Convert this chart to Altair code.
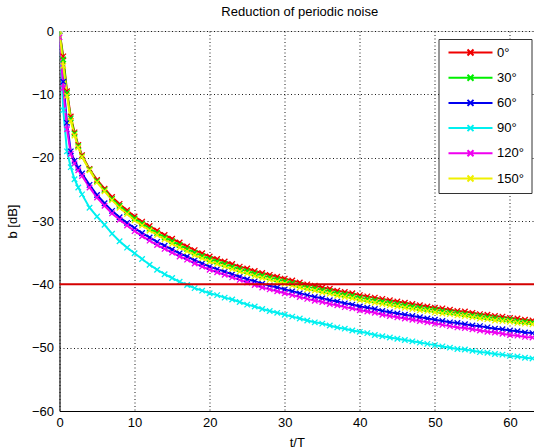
import altair as alt
import pandas as pd

T = [0, 0.5, 1, 1.5, 2, 2.5, 3, 4, 5, 6, 7, 8, 9, 10, 11, 12, 13, 14, 15, 16, 17, 18, 19, 20,
     21, 22, 23, 24, 25, 26, 27, 28, 29, 30, 31, 32, 33, 34, 35, 36, 37, 38, 39, 40, 41, 42,
     43, 44, 45, 46, 47, 48, 49, 50, 51, 52, 53, 54, 55, 56, 57, 58, 59, 60, 61, 62, 63]

B0 = [0, -4.0, -9.5, -13.5, -16.0, -18.0, -19.6, -21.8, -23.5, -24.9, -26.2, -27.3, -28.3, -29.3,
      -30.1, -30.8, -31.5, -32.2, -32.8, -33.4, -34.0, -34.6, -35.1, -35.6, -36.0, -36.4, -36.8,
      -37.2, -37.5, -37.9, -38.2, -38.5, -38.8, -39.1, -39.4, -39.7, -40.0, -40.2, -40.5, -40.7,
      -41.0, -41.2, -41.4, -41.7, -41.9, -42.1, -42.3, -42.5, -42.7, -42.9, -43.1, -43.3, -43.5,
      -43.7, -43.8, -44.0, -44.2, -44.3, -44.5, -44.7, -44.8, -45.0, -45.1, -45.3, -45.4, -45.6, -45.7]
B30 = [0, -4.5, -9.8, -13.8, -16.2, -18.2, -19.8, -21.9, -23.7, -25.1, -26.5, -27.6, -28.6, -29.6,
       -30.4, -31.2, -31.9, -32.6, -33.2, -33.8, -34.4, -35.0, -35.5, -36.0, -36.4, -36.8, -37.2,
       -37.6, -37.9, -38.3, -38.6, -38.9, -39.2, -39.5, -39.8, -40.1, -40.4, -40.6, -40.9, -41.1,
       -41.4, -41.6, -41.8, -42.1, -42.3, -42.5, -42.7, -42.9, -43.1, -43.3, -43.5, -43.7, -43.9,
       -44.0, -44.2, -44.4, -44.5, -44.7, -44.9, -45.0, -45.2, -45.3, -45.5, -45.6, -45.8, -45.9, -46.0]
B60 = [0, -8.0, -14.5, -19.0, -20.5, -21.6, -22.5, -24.3, -25.9, -27.2, -28.4, -29.4, -30.3, -31.1,
       -31.9, -32.6, -33.3, -33.9, -34.5, -35.1, -35.6, -36.2, -36.7, -37.2, -37.6, -38.0, -38.4,
       -38.8, -39.2, -39.5, -39.9, -40.2, -40.5, -40.8, -41.1, -41.4, -41.7, -42.0, -42.2, -42.5,
       -42.7, -43.0, -43.2, -43.5, -43.7, -43.9, -44.2, -44.4, -44.6, -44.8, -45.0, -45.2, -45.4,
       -45.6, -45.8, -46.0, -46.1, -46.3, -46.5, -46.6, -46.8, -47.0, -47.1, -47.3, -47.4, -47.6, -47.7]
B90 = [0, -12.5, -19.0, -21.5, -23.4, -24.7, -25.8, -27.9, -29.3, -30.6, -32.0, -33.2, -34.2, -35.1,
       -36.0, -36.9, -37.7, -38.4, -39.0, -39.6, -40.1, -40.6, -41.0, -41.4, -41.7, -42.1, -42.4,
       -42.8, -43.2, -43.5, -43.9, -44.2, -44.5, -44.8, -45.1, -45.4, -45.7, -46.0, -46.2, -46.5,
       -46.8, -47.0, -47.3, -47.5, -47.7, -48.0, -48.2, -48.4, -48.6, -48.8, -49.0, -49.2, -49.4,
       -49.6, -49.8, -50.0, -50.2, -50.3, -50.5, -50.7, -50.8, -51.0, -51.1, -51.3, -51.4, -51.6, -51.7]
B120 = [-1.0, -9.0, -15.5, -19.4, -20.9, -22.0, -22.9, -24.7, -26.3, -27.6, -28.8, -29.8, -30.7, -31.6,
        -32.4, -33.1, -33.8, -34.4, -35.0, -35.6, -36.1, -36.7, -37.2, -37.7, -38.1, -38.5, -38.9,
        -39.3, -39.7, -40.1, -40.5, -40.8, -41.1, -41.4, -41.7, -42.0, -42.3, -42.6, -42.8, -43.1,
        -43.3, -43.6, -43.8, -44.1, -44.3, -44.5, -44.8, -45.0, -45.2, -45.4, -45.6, -45.8, -46.0,
        -46.2, -46.4, -46.6, -46.8, -46.9, -47.1, -47.3, -47.5, -47.6, -47.8, -48.0, -48.1, -48.3, -48.4]
B150 = [0, -5.5, -10.2, -14.2, -16.5, -18.4, -19.9, -22.0, -23.9, -25.3, -26.7, -27.9, -28.9, -29.9,
        -30.7, -31.5, -32.2, -32.9, -33.6, -34.2, -34.8, -35.4, -35.9, -36.4, -36.8, -37.2, -37.6,
        -38.0, -38.3, -38.7, -39.0, -39.3, -39.6, -39.9, -40.2, -40.5, -40.8, -41.0, -41.3, -41.5,
        -41.8, -42.0, -42.2, -42.5, -42.7, -42.9, -43.1, -43.3, -43.5, -43.7, -43.9, -44.1, -44.2,
        -44.4, -44.6, -44.7, -44.9, -45.0, -45.2, -45.4, -45.5, -45.7, -45.8, -45.9, -46.1, -46.2, -46.3]

LABELS = ["0°", "30°", "60°", "90°", "120°", "150°"]
COLORS = ["#f00000", "#00f000", "#0000f0", "#00f0f0", "#f000f0", "#f0f000"]
SERIES = [B0, B30, B60, B90, B120, B150]
THRESHOLD = [-40]
X_TICKS = [0, 10, 20, 30, 40, 50, 60]
Y_TICKS = [-60, -50, -40, -30, -20, -10, 0]

rows = []
for lab, vals in zip(LABELS, SERIES):
    for t, b in zip(T, vals):
        rows.append({"t": t, "b": b, "angle": lab})
df = pd.DataFrame(rows)

FONT = "Liberation Sans"

xscale = alt.Scale(domain=[0, 63.2], nice=False, zero=False)
yscale = alt.Scale(domain=[-60, 0], nice=False)

xaxis = alt.Axis(values=X_TICKS, title="t/T", grid=True, gridDash=[1, 2.5], gridColor="black",
                 gridOpacity=0.9, ticks=False, tickSize=0, domainColor="black", domainWidth=1,
                 labelFont=FONT, labelFontSize=13, labelColor="black", labelPadding=5,
                 titleFont=FONT, titleFontSize=13, titleFontWeight="normal", titleColor="black",
                 titleY=35, titleBaseline="alphabetic", labelFlush=False)
yaxis = alt.Axis(values=Y_TICKS, title="b [dB]", grid=True, gridDash=[1, 2.5], gridColor="black",
                 gridOpacity=0.9, ticks=False, tickSize=0, domainColor="black", domainWidth=1,
                 labelFont=FONT, labelFontSize=13, labelColor="black", labelPadding=6,
                 titleFont=FONT, titleFontSize=13, titleFontWeight="normal", titleColor="black",
                 titleX=-47, titleY=190, titleAlign="center", titleBaseline="middle", titleAngle=-90,
                 labelFlush=False)

legend = alt.Legend(title=None, orient="none", legendX=379, legendY=8,
                    strokeColor="#333333", fillColor="white", padding=7,
                    symbolType="M-4.4,0L4.4,0M-0.6,-0.6L0.6,0.6M-0.6,0.6L0.6,-0.6",
                    symbolSize=100, symbolStrokeWidth=2, symbolOffset=18.5,
                    labelOffset=20, labelFont=FONT, labelFontSize=13, labelColor="black",
                    rowPadding=10.2, cornerRadius=0)

lines = alt.Chart(df).mark_line(
    strokeWidth=2, clip=True,
    point=alt.OverlayMarkDef(shape="M-1,-1L1,1M-1,1L1,-1", size=30, filled=False, strokeWidth=1.3, clip=True),
).encode(
    x=alt.X("t:Q", scale=xscale, axis=xaxis),
    y=alt.Y("b:Q", scale=yscale, axis=yaxis),
    color=alt.Color("angle:N", scale=alt.Scale(domain=LABELS, range=COLORS), legend=legend),
    order=alt.Order("t:Q"),
)

rule = alt.Chart(pd.DataFrame({"b": THRESHOLD})).mark_rule(color="#d40000", strokeWidth=2).encode(
    y=alt.Y("b:Q", scale=yscale)
)

chart = alt.layer(lines, rule).properties(
    width=474.5, height=380,
    autosize=alt.AutoSizeParams(type="none"),
    padding={"left": 59.5, "top": 31, "right": 0, "bottom": 37},
    title=alt.TitleParams("Reduction of periodic noise", font=FONT, fontSize=13, fontWeight="normal",
                          color="black", offset=12, anchor="middle", dx=3, dy=16, baseline="alphabetic"),
).configure_view(stroke=None).configure(background="white")

chart.save("out.html", embed_options={"renderer": "svg", "actions": False})
